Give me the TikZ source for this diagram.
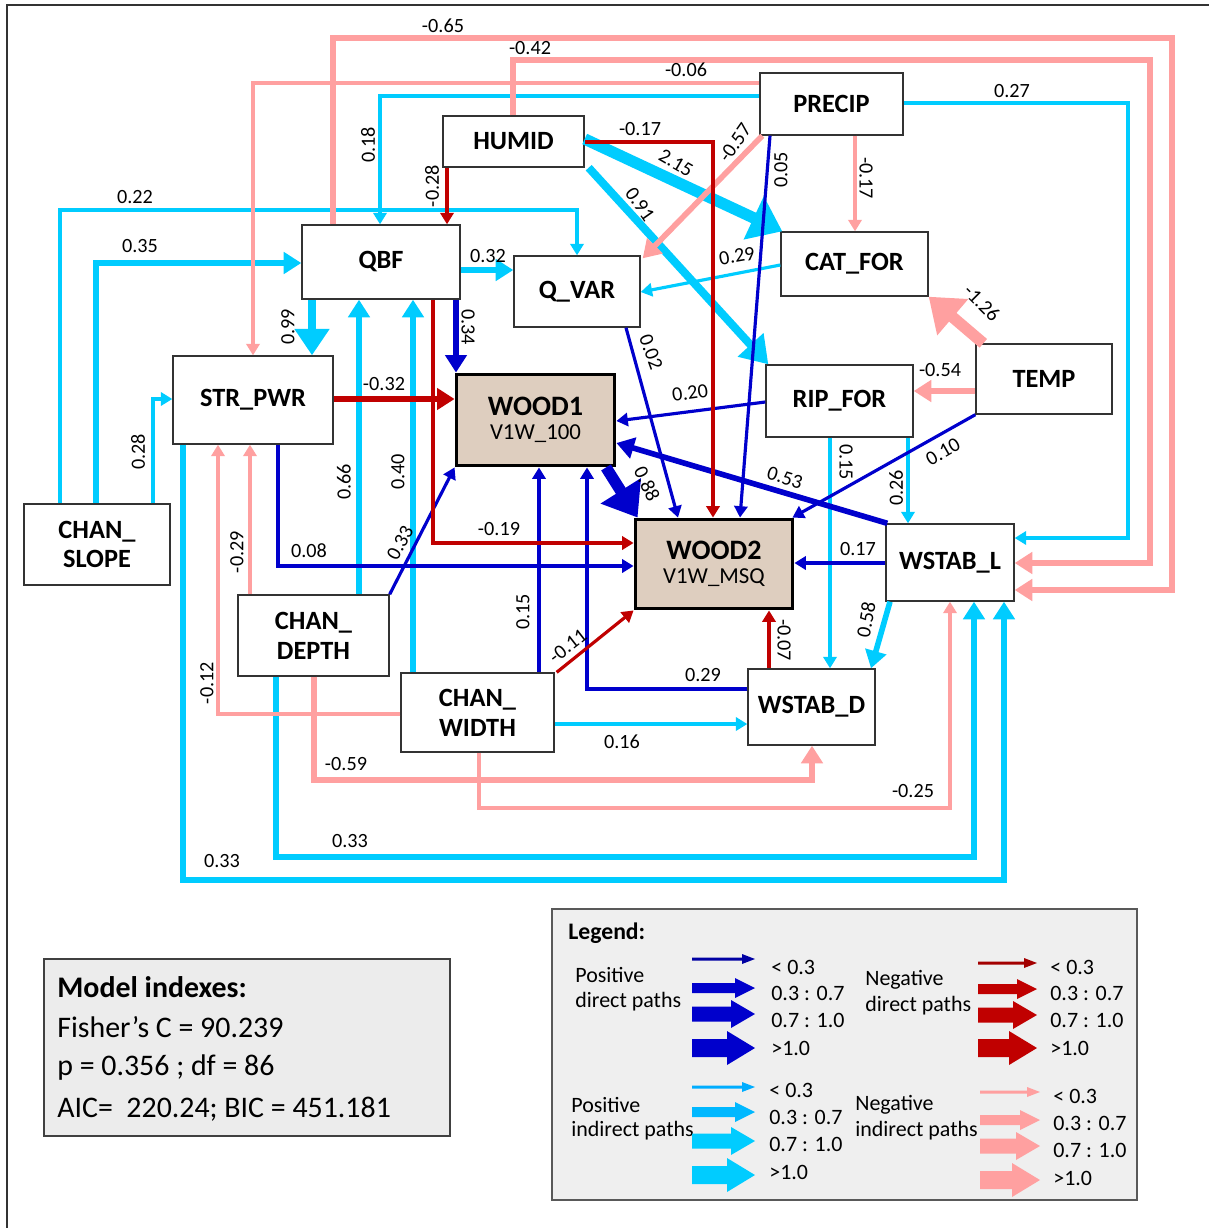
\documentclass[tikz,border=0pt]{standalone}
\usepackage{fontspec}
\setmainfont{Carlito}
\usetikzlibrary{arrows.meta,calc}
\definecolor{cyc}{RGB}{0,204,255}
\definecolor{pkc}{RGB}{255,160,160}
\definecolor{dbc}{RGB}{0,0,204}
\definecolor{drc}{RGB}{192,0,0}
\definecolor{tanc}{RGB}{222,206,191}
\definecolor{legfill}{RGB}{239,239,239}
\definecolor{modfill}{RGB}{236,236,236}
\newcommand\legarr[7]{\fill[#1] (#2,{#4-#5}) -- ({#3-#7},{#4-#5}) -- ({#3-#7},{#4-#6}) -- (#3,#4) -- ({#3-#7},{#4+#6}) -- ({#3-#7},{#4+#5}) -- (#2,{#4+#5}) -- cycle;}
\begin{document}
\begin{tikzpicture}[x=0.02cm,y=-0.02cm,
  box/.style={draw=black!80, fill=white, line width=0.8pt, inner sep=0pt, align=center,
     font=\fontsize{15}{17}\selectfont\bfseries},
  wood/.style={draw=black, fill=tanc, line width=2.2pt, inner sep=0pt, align=center},
  lab/.style={font=\fontsize{11.5}{13}\selectfont, inner sep=0pt},
  cy/.style={draw=cyc, color=cyc}, pk/.style={draw=pkc, color=pkc},
  db/.style={draw=dbc, color=dbc}, dr/.style={draw=drc, color=drc},
  w1/.style={line width=1.8pt, -{Triangle[length=6.5pt,width=7.5pt]}},
  w2/.style={line width=3.2pt, -{Triangle[length=10pt,width=12pt]}},
  w3/.style={line width=4.6pt, -{Triangle[length=15pt,width=19pt]}},
  w4/.style={line width=6.5pt, -{Triangle[length=18pt,width=26pt]}},
  ltxt/.style={anchor=west, inner sep=0pt, font=\fontsize{12.5}{14}\selectfont},
  mtxt/.style={anchor=west, inner sep=0pt, font=\fontsize{17}{20}\selectfont}
]
\useasboundingbox (0,0) rectangle (1209,1228);
\fill[white] (0,0) rectangle (1209,1228);
\draw[black!80, line width=0.6pt] (7,1228) -- (7,5) -- (1209,5);

% nodes
\node[box, minimum width=2.86cm, minimum height=1.24cm] (precip) at (831.5,104) {PRECIP};
\node[box, minimum width=2.82cm, minimum height=1.02cm] (humid) at (513.5,141.5) {HUMID};
\node[box, minimum width=3.16cm, minimum height=1.48cm] (qbf) at (381,262) {QBF};
\node[box, minimum width=2.52cm, minimum height=1.42cm] (qvar) at (577,291.5) {Q\_VAR};
\node[box, minimum width=2.94cm, minimum height=1.28cm] (catfor) at (854.5,264) {CAT\_FOR};
\node[box, minimum width=2.72cm, minimum height=1.40cm] (temp) at (1044,379) {TEMP};
\node[box, minimum width=2.94cm, minimum height=1.44cm] (ripfor) at (839.5,401) {RIP\_FOR};
\node[box, minimum width=3.20cm, minimum height=1.76cm] (str) at (253,400) {STR\_PWR};
\node[wood, minimum width=3.16cm, minimum height=1.82cm] (w1) at (535.5,420)
  {{\fontsize{16}{18}\selectfont\bfseries WOOD1}\\[2pt]{\fontsize{13}{15}\selectfont V1W\_100}};
\node[wood, minimum width=3.14cm, minimum height=1.78cm] (w2) at (714,564)
  {{\fontsize{16}{18}\selectfont\bfseries WOOD2}\\[2pt]{\fontsize{13}{15}\selectfont V1W\_MSQ}};
\node[box, minimum width=2.56cm, minimum height=1.54cm] (wsl) at (950,562.5) {WSTAB\_L};
\node[box, minimum width=2.92cm, minimum height=1.62cm] (cs) at (97,544.5) {CHAN\_\\SLOPE};
\node[box, minimum width=3.02cm, minimum height=1.62cm] (cd) at (313.5,635.5) {CHAN\_\\DEPTH};
\node[box, minimum width=3.06cm, minimum height=1.58cm] (cw) at (477.5,712.5) {CHAN\_\\WIDTH};
\node[box, minimum width=2.54cm, minimum height=1.52cm] (wsd) at (811.5,707) {WSTAB\_D};

% light blue (indirect positive)
\draw[cy,w1] (cs.north -| 60,0) |- (577,210) -- (qvar.north -| 577,0);
\draw[cy,w2] (cs.north -| 96,0) |- (qbf.west |- 0,263);
\draw[cy,w1] (cs.north -| 153,0) |- (str.west |- 0,399);
\draw[cy,w1] (precip.west |- 0,96) -| (qbf.north -| 380,0);
\draw[cy,w1] (precip.east |- 0,103) -| (1128,538) -- (wsl.east |- 0,538);
\draw[cy,w3] (qbf.south -| 312,0) -- (str.north -| 312,0);
\draw[cy,w2] (qbf.east |- 0,270) -- (qvar.west |- 0,270);
\draw[cy,w4] (humid.east |- 0,139) -- ($(catfor.north west)+(2,0)$);
\draw[cy,w3] ($(humid.south east)+(4,0)$) -- ($(ripfor.north west)+(3,0)$);
\draw[cy,w1] (catfor.west |- 0,265) -- (qvar.east |- 0,292);
\draw[cy,w2] (cd.north -| 359,0) -- (qbf.south -| 359,0);
\draw[cy,w2] (cw.north -| 413,0) -- (qbf.south -| 413,0);
\draw[cy,w1] (ripfor.south -| 830,0) -- (wsd.north -| 830,0);
\draw[cy,w1] (ripfor.south -| 908,0) -- (wsl.north -| 908,0);
\draw[cy,w2] (wsl.south -| 890,0) -- (wsd.north -| 871,0);
\draw[cy,w1] (cw.east |- 0,724) -- (wsd.west |- 0,724);
\draw[cy,w2] (cd.south -| 276,0) |- (974,857) -- (wsl.south -| 974,0);
\draw[cy,w2] (str.south -| 183,0) |- (1004,880) -- (wsl.south -| 1004,0);

% pink (indirect negative)
\draw[pk,w2] (qbf.north -| 333,0) |- (1172,38) |- (wsl.east |- 0,590);
\draw[pk,w2] (humid.north -| 513,0) |- (1150,60) |- (wsl.east |- 0,563);
\draw[pk,w1] (precip.west |- 0,83) -| (str.north -| 253,0);
\draw[pk,w1] (precip.south -| 855,0) -- (catfor.north -| 855,0);
\draw[pk,w2] ($(precip.south west)+(3,0)$) -- ($(qvar.north east)+(2,3)$);
\draw[pk,w4] ($(temp.north west)+(8,0)$) -- (catfor.south east);
\draw[pk,w2] (temp.west |- 0,391) -- (ripfor.east |- 0,391);
\draw[pk,w1] (cd.north -| 250,0) -- (str.south -| 250,0);
\draw[pk,w1] (cw.west |- 0,714) -| (str.south -| 218,0);
\draw[pk,w2] (cd.south -| 314,0) |- (812,780) -- (wsd.south -| 812,0);
\draw[pk,w1] (cw.south -| 479,0) |- (950,808) -- (wsl.south -| 950,0);

% dark blue (direct positive)
\draw[db,w2] (qbf.south -| 456,0) -- (w1.north -| 456,0);
\draw[db,w1] (str.south -| 278,0) |- (w2.west |- 0,566);
\draw[db,w1] (cd.north east) -- (w1.south west);
\draw[db,w1] (cw.north -| 539,0) -- (w1.south -| 539,0);
\draw[db,w1] (wsd.west |- 0,689) -| (w1.south -| 587,0);
\draw[db,w1] (ripfor.west |- 0,402) -- (w1.east |- 0,421);
\draw[db,w2] ($(wsl.north west)+(2,0)$) -- (w1.east |- 0,443);
\draw[db,w4] (w1.south -| 606,0) -- ($(w2.north west)+(4,0)$);
\draw[db,w1] (qvar.south -| 626,0) -- (w2.north -| 678,0);
\draw[db,w1] (precip.south -| 770,0) -- (w2.north -| 740,0);
\draw[db,w1] (temp.south west) -- ($(w2.north east)+(-2,0)$);
\draw[db,w1] (wsl.west |- 0,563) -- (w2.east |- 0,563);

% dark red (direct negative)
\draw[dr,w1] (humid.south -| 447,0) -- (qbf.north -| 447,0);
\draw[dr,w1] (humid.east |- 0,142) -| (w2.north -| 713,0);
\draw[dr,w2] (str.east |- 0,399) -- (w1.west |- 0,399);
\draw[dr,w1] (qbf.south -| 433,0) |- (w2.west |- 0,543);
\draw[dr,w1] ($(cw.north east)+(2,0)$) -- (w2.south west);
\draw[dr,w1] (wsd.north -| 769,0) -- (w2.south -| 769,0);

% labels
\node[lab] (l1) at (135,197) {0.22};
\node[lab] (l2) at (140,246) {0.35};
\node[lab, rotate=90] (l3) at (138,452) {0.28};
\node[lab, rotate=90] (l4) at (368,145) {0.18};
\node[lab] (l5) at (1012,91) {0.27};
\node[lab, rotate=90] (l6) at (288,327) {0.99};
\node[lab] (l7) at (488,256) {0.32};
\node[lab, rotate=-30] (l8) at (676,163) {2.15};
\node[lab, rotate=-55] (l9) at (640,204) {0.91};
\node[lab, rotate=10] (l10) at (737,256) {0.29};
\node[lab, rotate=90] (l11) at (344,482) {0.66};
\node[lab, rotate=90] (l12) at (398,472) {0.40};
\node[lab, rotate=-90] (l13) at (846,462) {0.15};
\node[lab, rotate=90] (l14) at (896,488) {0.26};
\node[lab, rotate=80] (l15) at (866,620) {0.58};
\node[lab] (l16) at (622,742) {0.16};
\node[lab] (l17) at (350,841) {0.33};
\node[lab] (l18) at (222,861) {0.33};
\node[lab] (l19) at (443,26) {-0.65};
\node[lab] (l20) at (530,48) {-0.42};
\node[lab] (l21) at (686,70) {-0.06};
\node[lab, rotate=-90] (l22) at (866,178) {-0.17};
\node[lab, rotate=55] (l23) at (735,143) {-0.57};
\node[lab, rotate=-45] (l24) at (982,303) {-1.26};
\node[lab] (l25) at (940,370) {-0.54};
\node[lab, rotate=90] (l26) at (237,552) {-0.29};
\node[lab, rotate=90] (l27) at (207,683) {-0.12};
\node[lab] (l28) at (346,764) {-0.59};
\node[lab] (l29) at (913,791) {-0.25};
\node[lab, rotate=-90] (l30) at (468,327) {0.34};
\node[lab] (l31) at (309,551) {0.08};
\node[lab, rotate=62] (l32) at (400,543) {0.33};
\node[lab, rotate=90] (l33) at (523,612) {0.15};
\node[lab] (l34) at (703,675) {0.29};
\node[lab, rotate=8] (l35) at (690,393) {0.20};
\node[lab, rotate=-17] (l36) at (785,478) {0.53};
\node[lab, rotate=-65] (l37) at (647,484) {0.88};
\node[lab, rotate=-70] (l38) at (651,352) {0.02};
\node[lab, rotate=90] (l39) at (781,170) {0.05};
\node[lab, rotate=30] (l40) at (943,452) {0.10};
\node[lab] (l41) at (858,549) {0.17};
\node[lab, rotate=90] (l42) at (432,186) {-0.28};
\node[lab] (l43) at (640,129) {-0.17};
\node[lab] (l44) at (384,384) {-0.32};
\node[lab] (l45) at (499,529) {-0.19};
\node[lab, rotate=38] (l46) at (568,646) {-0.11};
\node[lab, rotate=-90] (l47) at (784,640) {-0.07};

% model indexes
\node[draw=black!75, fill=modfill, line width=0.8pt, minimum width=8.12cm, minimum height=3.54cm, inner sep=0pt] (model) at (247,1047.5) {};
\node[mtxt, font=\fontsize{17}{20}\selectfont\bfseries] (m1) at (57,987) {Model indexes:};
\node[mtxt] (m2) at (57,1027) {Fisher’s C = 90.239};
\node[mtxt] (m3) at (57,1068) {p = 0.356 ; df = 86};
\node[mtxt] (m4) at (57,1109) {AIC=\ \ 220.24; BIC = 451.181};

% legend
\node[draw=black!65, fill=legfill, line width=0.8pt, minimum width=11.70cm, minimum height=5.82cm, inner sep=0pt] (legend) at (844.5,1054.5) {};
\node[ltxt, font=\fontsize{13.5}{15}\selectfont\bfseries] (g0) at (568,933) {Legend:};
\node[ltxt] (g1) at (575,975) {Positive};
\node[ltxt] (g2) at (575,1002) {direct paths};
\node[ltxt] (g3) at (865,980) {Negative};
\node[ltxt] (g4) at (865,1006) {direct paths};
\node[ltxt] (g5) at (571,1105) {Positive};
\node[ltxt] (g6) at (571,1131) {indirect paths};
\node[ltxt] (g7) at (855,1105) {Negative};
\node[ltxt] (g8) at (855,1131) {indirect paths};
\legarr{dbc!80!black}{692}{755}{959}{1.5}{5}{13}
\legarr{dbc}{692}{755}{988}{5}{10}{20}
\legarr{dbc}{692}{755}{1014}{7.5}{14}{24}
\legarr{dbc}{692}{755}{1048}{9}{17}{28}
\legarr{drc!85!black}{978}{1037}{963}{1.5}{5}{13}
\legarr{drc}{978}{1037}{989}{5}{10}{20}
\legarr{drc}{978}{1037}{1015}{7.5}{14}{24}
\legarr{drc}{978}{1037}{1048}{9}{17}{28}
\legarr{cyc!85!blue}{692}{755}{1087}{1.5}{5}{13}
\legarr{cyc!90!blue}{692}{755}{1112}{5}{10}{20}
\legarr{cyc}{692}{755}{1141}{7.5}{14}{24}
\legarr{cyc}{692}{755}{1175}{9}{17}{28}
\legarr{pkc}{980}{1040}{1092}{1.5}{5}{13}
\legarr{pkc}{980}{1040}{1120}{5}{10}{20}
\legarr{pkc}{980}{1040}{1146}{7.5}{14}{24}
\legarr{pkc}{980}{1040}{1180}{9}{17}{28}
\node[ltxt] (b1) at (771,967) {< 0.3};
\node[ltxt] (b2) at (771,993) {0.3 : 0.7};
\node[ltxt] (b3) at (771,1020) {0.7 : 1.0};
\node[ltxt] (b4) at (771,1048) {>1.0};
\node[ltxt] (r1) at (1050,967) {< 0.3};
\node[ltxt] (r2) at (1050,993) {0.3 : 0.7};
\node[ltxt] (r3) at (1050,1020) {0.7 : 1.0};
\node[ltxt] (r4) at (1050,1048) {>1.0};
\node[ltxt] (c1) at (769,1090) {< 0.3};
\node[ltxt] (c2) at (769,1117) {0.3 : 0.7};
\node[ltxt] (c3) at (769,1144) {0.7 : 1.0};
\node[ltxt] (c4) at (769,1172) {>1.0};
\node[ltxt] (p1) at (1053,1096) {< 0.3};
\node[ltxt] (p2) at (1053,1123) {0.3 : 0.7};
\node[ltxt] (p3) at (1053,1150) {0.7 : 1.0};
\node[ltxt] (p4) at (1053,1178) {>1.0};
\end{tikzpicture}
\end{document}
